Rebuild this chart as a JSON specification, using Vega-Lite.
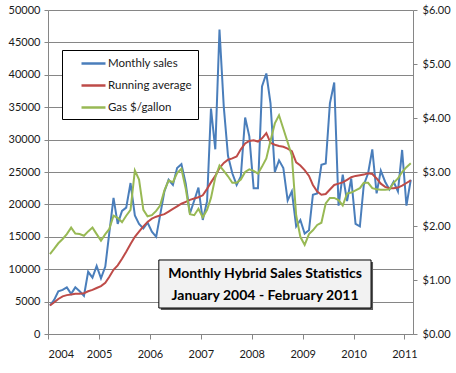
{
  "$schema": "https://vega.github.io/schema/vega-lite/v6.json",
  "width": 365,
  "height": 324,
  "autosize": {"type": "none"},
  "padding": {"left": 48, "top": 10, "right": 43, "bottom": 39},
  "background": "white",
  "config": {
    "view": {"stroke": null},
    "font": "Lato",
    "axis": {"labelFont": "Lato", "labelFontSize": 11, "labelColor": "#1a1a1a", "domainColor": "#868686", "tickColor": "#868686", "gridColor": "#868686", "gridOpacity": 1, "title": null},
    "axisLeft": {"values": [0, 5000, 10000, 15000, 20000, 25000, 30000, 35000, 40000, 45000, 50000], "format": "d", "grid": true, "tickSize": 4, "labelPadding": 4, "labelOverlap": false}
  },
  "data": {"values": [
    {"d": "2004-01-15", "sales": 4400, "avg": 4400, "gas": 1.48},
    {"d": "2004-02-15", "sales": 5300, "avg": 4900, "gas": 1.58},
    {"d": "2004-03-15", "sales": 6600, "avg": 5400, "gas": 1.68},
    {"d": "2004-04-15", "sales": 6800, "avg": 5800, "gas": 1.76},
    {"d": "2004-05-15", "sales": 7200, "avg": 6000, "gas": 1.85},
    {"d": "2004-06-15", "sales": 6200, "avg": 6100, "gas": 1.97},
    {"d": "2004-07-15", "sales": 7200, "avg": 6200, "gas": 1.86},
    {"d": "2004-08-15", "sales": 6600, "avg": 6200, "gas": 1.85},
    {"d": "2004-09-15", "sales": 5900, "avg": 6300, "gas": 1.82},
    {"d": "2004-10-15", "sales": 9600, "avg": 6600, "gas": 1.90},
    {"d": "2004-11-15", "sales": 8700, "avg": 6800, "gas": 1.97},
    {"d": "2004-12-15", "sales": 10500, "avg": 7100, "gas": 1.85},
    {"d": "2005-01-15", "sales": 8600, "avg": 7400, "gas": 1.73},
    {"d": "2005-02-15", "sales": 10400, "avg": 7900, "gas": 1.85},
    {"d": "2005-03-15", "sales": 15500, "avg": 8800, "gas": 1.94},
    {"d": "2005-04-15", "sales": 21000, "avg": 9900, "gas": 2.19},
    {"d": "2005-05-15", "sales": 17000, "avg": 10600, "gas": 2.15},
    {"d": "2005-06-15", "sales": 19000, "avg": 11600, "gas": 2.07},
    {"d": "2005-07-15", "sales": 19500, "avg": 12700, "gas": 2.19},
    {"d": "2005-08-15", "sales": 23300, "avg": 13900, "gas": 2.30},
    {"d": "2005-09-15", "sales": 18300, "avg": 15000, "gas": 3.03},
    {"d": "2005-10-15", "sales": 17000, "avg": 15800, "gas": 2.86},
    {"d": "2005-11-15", "sales": 16300, "avg": 16600, "gas": 2.30},
    {"d": "2005-12-15", "sales": 17200, "avg": 17300, "gas": 2.18},
    {"d": "2006-01-15", "sales": 15800, "avg": 17800, "gas": 2.20},
    {"d": "2006-02-15", "sales": 15000, "avg": 18100, "gas": 2.28},
    {"d": "2006-03-15", "sales": 18300, "avg": 18300, "gas": 2.38},
    {"d": "2006-04-15", "sales": 22000, "avg": 18500, "gas": 2.66},
    {"d": "2006-05-15", "sales": 23800, "avg": 18900, "gas": 2.84},
    {"d": "2006-06-15", "sales": 23000, "avg": 19300, "gas": 2.81},
    {"d": "2006-07-15", "sales": 25600, "avg": 19700, "gas": 2.98},
    {"d": "2006-08-15", "sales": 26200, "avg": 20100, "gas": 3.06},
    {"d": "2006-09-15", "sales": 23200, "avg": 20400, "gas": 2.69},
    {"d": "2006-10-15", "sales": 18600, "avg": 20700, "gas": 2.22},
    {"d": "2006-11-15", "sales": 20600, "avg": 20900, "gas": 2.20},
    {"d": "2006-12-15", "sales": 22600, "avg": 21100, "gas": 2.32},
    {"d": "2007-01-15", "sales": 17600, "avg": 21400, "gas": 2.16},
    {"d": "2007-02-15", "sales": 20500, "avg": 22400, "gas": 2.30},
    {"d": "2007-03-15", "sales": 34800, "avg": 23400, "gas": 2.52},
    {"d": "2007-04-15", "sales": 28500, "avg": 24400, "gas": 2.90},
    {"d": "2007-05-15", "sales": 47000, "avg": 25600, "gas": 3.12},
    {"d": "2007-06-15", "sales": 35000, "avg": 26400, "gas": 3.02},
    {"d": "2007-07-15", "sales": 27500, "avg": 26900, "gas": 2.92},
    {"d": "2007-08-15", "sales": 24800, "avg": 27100, "gas": 2.80},
    {"d": "2007-09-15", "sales": 23000, "avg": 27400, "gas": 2.80},
    {"d": "2007-10-15", "sales": 24300, "avg": 28500, "gas": 2.86},
    {"d": "2007-11-15", "sales": 33400, "avg": 29400, "gas": 3.00},
    {"d": "2007-12-15", "sales": 30500, "avg": 29800, "gas": 3.05},
    {"d": "2008-01-15", "sales": 22500, "avg": 29900, "gas": 3.02},
    {"d": "2008-02-15", "sales": 22500, "avg": 29700, "gas": 2.97},
    {"d": "2008-03-15", "sales": 38200, "avg": 30200, "gas": 3.10},
    {"d": "2008-04-15", "sales": 40200, "avg": 31000, "gas": 3.25},
    {"d": "2008-05-15", "sales": 35600, "avg": 29500, "gas": 3.58},
    {"d": "2008-06-15", "sales": 25000, "avg": 29200, "gas": 3.90},
    {"d": "2008-07-15", "sales": 26800, "avg": 29000, "gas": 4.05},
    {"d": "2008-08-15", "sales": 25600, "avg": 28900, "gas": 3.80},
    {"d": "2008-09-15", "sales": 20600, "avg": 28600, "gas": 3.55},
    {"d": "2008-10-15", "sales": 22000, "avg": 28200, "gas": 3.30},
    {"d": "2008-11-15", "sales": 16600, "avg": 26500, "gas": 2.20},
    {"d": "2008-12-15", "sales": 17600, "avg": 26000, "gas": 1.80},
    {"d": "2009-01-15", "sales": 15500, "avg": 25300, "gas": 1.65},
    {"d": "2009-02-15", "sales": 16000, "avg": 24400, "gas": 1.85},
    {"d": "2009-03-15", "sales": 21500, "avg": 23000, "gas": 1.92},
    {"d": "2009-04-15", "sales": 21700, "avg": 22000, "gas": 2.02},
    {"d": "2009-05-15", "sales": 26100, "avg": 21500, "gas": 2.06},
    {"d": "2009-06-15", "sales": 26300, "avg": 21600, "gas": 2.42},
    {"d": "2009-07-15", "sales": 35600, "avg": 22300, "gas": 2.52},
    {"d": "2009-08-15", "sales": 38800, "avg": 23000, "gas": 2.52},
    {"d": "2009-09-15", "sales": 19800, "avg": 23200, "gas": 2.48},
    {"d": "2009-10-15", "sales": 24600, "avg": 23400, "gas": 2.38},
    {"d": "2009-11-15", "sales": 20500, "avg": 23800, "gas": 2.60},
    {"d": "2009-12-15", "sales": 24000, "avg": 24200, "gas": 2.62},
    {"d": "2010-01-15", "sales": 17000, "avg": 24400, "gas": 2.66},
    {"d": "2010-02-15", "sales": 16600, "avg": 24500, "gas": 2.70},
    {"d": "2010-03-15", "sales": 23000, "avg": 24600, "gas": 2.80},
    {"d": "2010-04-15", "sales": 24800, "avg": 24800, "gas": 2.80},
    {"d": "2010-05-15", "sales": 28500, "avg": 24700, "gas": 2.70},
    {"d": "2010-06-15", "sales": 21700, "avg": 24000, "gas": 2.68},
    {"d": "2010-07-15", "sales": 25200, "avg": 23200, "gas": 2.67},
    {"d": "2010-08-15", "sales": 23500, "avg": 22700, "gas": 2.67},
    {"d": "2010-09-15", "sales": 22300, "avg": 22500, "gas": 2.68},
    {"d": "2010-10-15", "sales": 23500, "avg": 22500, "gas": 2.80},
    {"d": "2010-11-15", "sales": 22000, "avg": 22600, "gas": 2.88},
    {"d": "2010-12-15", "sales": 28400, "avg": 22900, "gas": 3.00},
    {"d": "2011-01-15", "sales": 19800, "avg": 23300, "gas": 3.09},
    {"d": "2011-02-15", "sales": 23800, "avg": 23700, "gas": 3.16}
  ]},
  "layer": [
    {
      "layer": [
        {
          "transform": [{"fold": ["sales", "avg"], "as": ["series", "v"]}],
          "mark": {"type": "line", "strokeWidth": 2},
          "encoding": {
            "x": {
              "field": "d", "type": "temporal",
              "scale": {"type": "utc", "domain": [{"year": 2004, "month": 1, "date": 1, "utc": true}, {"year": 2011, "month": 3, "date": 3, "utc": true}]},
              "axis": {"format": "%Y", "tickCount": {"interval": "year", "step": 1}, "grid": false, "tickSize": 5, "labelPadding": 9, "labelFontSize": 11}
            },
            "y": {
              "field": "v", "type": "quantitative",
              "scale": {"domain": [0, 50000], "nice": false}
            },
            "color": {
              "field": "series", "type": "nominal",
              "scale": {"domain": ["sales", "avg", "gas"], "range": ["#4a7ebb", "#be4b48", "#98b954"]},
              "legend": {
                "orient": "none", "legendX": 14, "legendY": 40, "direction": "vertical", "title": null,
                "strokeColor": "black", "fillColor": "white", "padding": 6,
                "symbolType": "M-2,0L2,0", "symbolSize": 144, "symbolStrokeWidth": 2.5, "symbolOffset": 18,
                "labelOffset": 7, "rowPadding": 9, "labelFont": "Lato", "labelFontSize": 11.5, "labelColor": "#1a1a1a", "labelLimit": 200,
                "labelExpr": "datum.value == 'sales' ? 'Monthly sales' : datum.value == 'avg' ? 'Running average' : 'Gas $/gallon'"
              }
            }
          }
        },
        {
          "data": {"values": [{}]},
          "mark": {"type": "rect", "fill": "#5a5a5a", "xOffset": 2, "x2Offset": 2, "yOffset": 2, "y2Offset": 2},
          "encoding": {
            "x": {"datum": {"year": 2006, "month": 3, "date": 6, "utc": true}, "type": "temporal"},
            "x2": {"datum": {"year": 2010, "month": 5, "date": 6, "utc": true}},
            "y": {"datum": 11420, "type": "quantitative"},
            "y2": {"datum": 4012}
          }
        },
        {
          "data": {"values": [{}]},
          "mark": {"type": "rect", "fill": "#f2f2f2", "stroke": "black", "strokeWidth": 1},
          "encoding": {
            "x": {"datum": {"year": 2006, "month": 3, "date": 6, "utc": true}, "type": "temporal"},
            "x2": {"datum": {"year": 2010, "month": 5, "date": 6, "utc": true}},
            "y": {"datum": 11420, "type": "quantitative"},
            "y2": {"datum": 4012}
          }
        },
        {
          "data": {"values": [{}]},
          "mark": {"type": "text", "font": "Lato", "fontWeight": "bold", "fontSize": 14, "lineHeight": 22, "align": "center", "baseline": "middle", "color": "black",
                   "text": ["Monthly Hybrid Sales Statistics", "January 2004 - February 2011"]},
          "encoding": {
            "x": {"datum": {"year": 2008, "month": 4, "date": 6, "utc": true}, "type": "temporal"},
            "y": {"datum": 9336, "type": "quantitative"}
          }
        }
      ]
    },
    {
      "mark": {"type": "line", "strokeWidth": 2},
      "encoding": {
        "x": {"field": "d", "type": "temporal"},
        "y": {
          "field": "gas", "type": "quantitative",
          "scale": {"domain": [0, 6], "nice": false},
          "axis": {"orient": "right", "values": [0, 1, 2, 3, 4, 5, 6], "format": "$.2f", "grid": false, "tickSize": 4, "labelPadding": 5}
        },
        "color": {"datum": "gas"}
      }
    }
  ],
  "resolve": {"scale": {"y": "independent"}}
}
